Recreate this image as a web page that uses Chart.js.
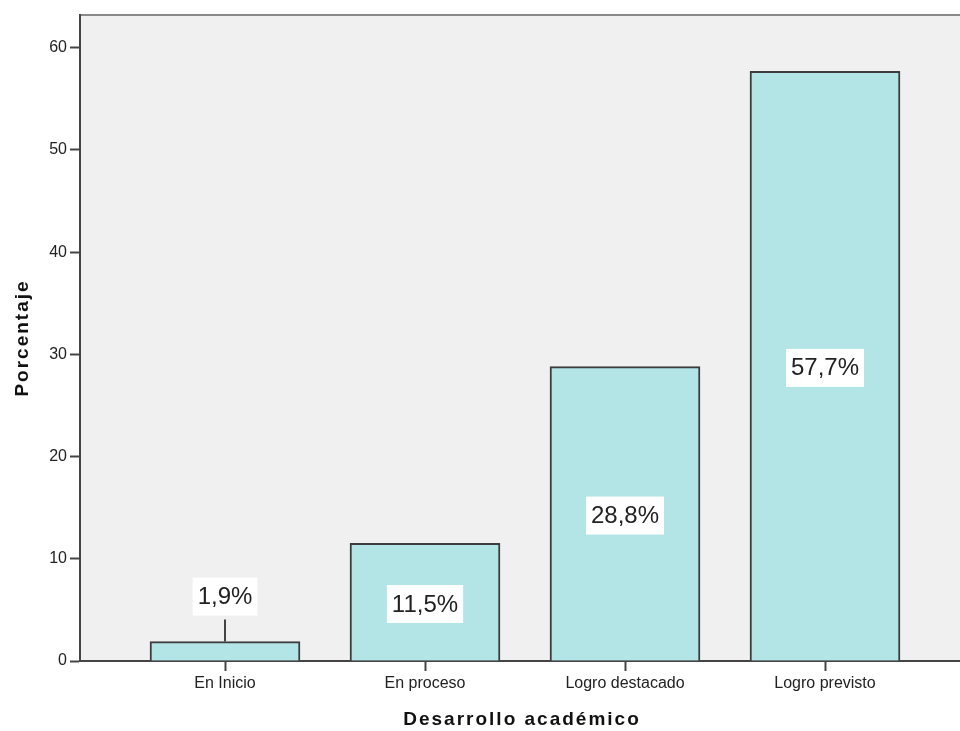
<!DOCTYPE html>
<html>
<head>
<meta charset="utf-8">
<title>Desarrollo académico</title>
<script src="https://cdn.jsdelivr.net/npm/chart.js@4/dist/chart.umd.min.js"></script>
<style>
    html, body { margin: 0; padding: 0; background: #fff; }
    canvas { display: block; }
</style>
</head>
<body>
<canvas id="chart" width="960" height="731"></canvas>
<script>
// ====== DATA ======
const categories = ['En Inicio', 'En proceso', 'Logro destacado', 'Logro previsto'];
const percentages = [1.9, 11.5, 28.8, 57.7];
const percentLabels = ['1,9%', '11,5%', '28,8%', '57,7%'];
const yTicks = [0, 10, 20, 30, 40, 50, 60];

// ====== STYLE ======
const FONT = "'Liberation Sans', Arial, sans-serif";
const COLORS = {
    plotBg:  '#F0F0F0',
    bar:     '#B3E5E6',
    border:  '#3C3C3C',
    axis:    '#444444',
    frame:   '#8A8A8A',
    text:    '#222222',
};

// fondo gris del área de trazado + línea superior
const plotBackground = {
    id: 'plotBackground',
    beforeDraw(chart) {
        const { ctx, chartArea: a } = chart;
        ctx.save();
        ctx.fillStyle = COLORS.plotBg;
        ctx.fillRect(a.left, a.top, a.right - a.left, a.bottom - a.top);
        ctx.strokeStyle = COLORS.frame;
        ctx.lineWidth = 2;
        ctx.beginPath();
        ctx.moveTo(a.left, a.top);
        ctx.lineTo(a.right, a.top);
        ctx.stroke();
        ctx.restore();
    }
};

// etiquetas de porcentaje en cajas blancas
const boxLabels = {
    id: 'boxLabels',
    afterDatasetsDraw(chart) {
        const { ctx } = chart;
        const meta = chart.getDatasetMeta(0);
        ctx.save();
        ctx.font = '24px ' + FONT;
        ctx.textAlign = 'center';
        ctx.textBaseline = 'middle';
        meta.data.forEach((bar, i) => {
            const text = percentLabels[i];
            const w = ctx.measureText(text).width + 10;
            const h = 38;
            let cy;
            if (bar.base - bar.y < 60) {
                // barra baja: caja encima con línea guía
                cy = bar.y - 45;
                ctx.strokeStyle = COLORS.axis;
                ctx.lineWidth = 2;
                ctx.beginPath();
                ctx.moveTo(bar.x, bar.y);
                ctx.lineTo(bar.x, bar.y - 22);
                ctx.stroke();
            } else {
                cy = (bar.y + bar.base) / 2 + 2;
            }
            ctx.fillStyle = '#FFFFFF';
            ctx.fillRect(bar.x - w / 2, cy - h / 2, w, h);
            ctx.fillStyle = COLORS.text;
            ctx.fillText(text, bar.x, cy + 1);
        });
        ctx.restore();
    }
};

// títulos de ejes (con espaciado de letras)
const axisTitles = {
    id: 'axisTitles',
    afterDraw(chart) {
        const { ctx, chartArea: a } = chart;
        ctx.save();
        ctx.font = 'bold 19px ' + FONT;
        ctx.letterSpacing = '2px';
        ctx.fillStyle = '#111111';
        ctx.textAlign = 'center';
        ctx.textBaseline = 'middle';
        ctx.fillText('Desarrollo académico', 522, 720);
        ctx.translate(23, (a.top + a.bottom) / 2);
        ctx.rotate(-Math.PI / 2);
        ctx.fillText('Porcentaje', 0, 0);
        ctx.restore();
    }
};

new Chart(document.getElementById('chart'), {
    type: 'bar',
    data: {
        datasets: [{
            data: percentages.map((v, i) => ({ x: i, y: v })),
            backgroundColor: COLORS.bar,
            borderColor: COLORS.border,
            borderWidth: 2,
            barThickness: 150,
        }]
    },
    options: {
        responsive: false,
        animation: false,
        layout: { padding: { top: 15, left: 0, right: 0, bottom: 0 } },
        plugins: {
            legend: { display: false },
            tooltip: { enabled: false },
        },
        scales: {
            x: {
                type: 'linear',
                offset: false,
                min: -0.725,
                max: 3.675,
                afterBuildTicks: scale => {
                    scale.ticks = categories.map((c, i) => ({ value: i }));
                },
                afterFit: scale => { scale.height = 70; },
                ticks: {
                    callback: v => categories[v],
                    autoSkip: false,
                    maxRotation: 0,
                    padding: 3,
                    color: COLORS.text,
                    font: { family: FONT, size: 16 },
                },
                grid: {
                    offset: false,
                    drawOnChartArea: false,
                    tickLength: 10,
                    tickColor: COLORS.axis,
                    tickWidth: 2,
                },
                border: { color: COLORS.axis, width: 2 },
            },
            y: {
                min: 0,
                max: 63.2,
                afterBuildTicks: scale => {
                    scale.ticks = yTicks.map(v => ({ value: v }));
                },
                afterFit: scale => { scale.width = 80; },
                ticks: {
                    padding: 3,
                    color: COLORS.text,
                    font: { family: FONT, size: 16 },
                },
                grid: {
                    drawOnChartArea: false,
                    tickLength: 10,
                    tickColor: COLORS.axis,
                    tickWidth: 2,
                },
                border: { color: COLORS.axis, width: 2 },
            }
        }
    },
    plugins: [plotBackground, boxLabels, axisTitles]
});
</script>
</body>
</html>
